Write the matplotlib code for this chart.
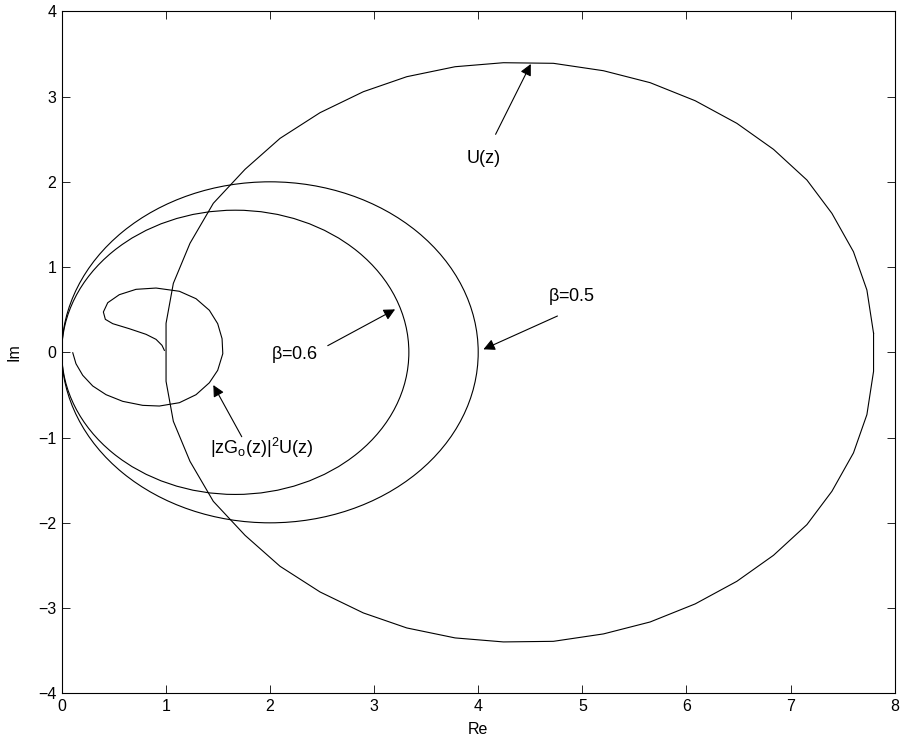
"""Nyquist-style plot of U(z), the beta circles and |zGo(z)|^2 U(z)"""

import matplotlib.pyplot as plt
import numpy as np
from matplotlib import patches

plt.rcParams["font.family"] = ["Liberation Sans", "DejaVu Sans"]
plt.rcParams["mathtext.fontset"] = "custom"
plt.rcParams["mathtext.rm"] = "Liberation Sans"
plt.rcParams["mathtext.it"] = "Liberation Sans"
plt.rcParams["mathtext.default"] = "regular"

# U(z), upper half (right -> left); lower half is the conjugate
U_RE_UPPER = [7.797, 7.733, 7.604, 7.397, 7.157, 6.836, 6.484, 6.084, 5.651, 5.203,
              4.722, 4.242, 3.778, 3.314, 2.897, 2.481, 2.097, 1.761, 1.456, 1.232,
              1.072, 1.002]
U_IM_UPPER = [0.223, 0.731, 1.180, 1.630, 2.021, 2.381, 2.686, 2.951, 3.163, 3.303,
              3.390, 3.397, 3.350, 3.233, 3.057, 2.811, 2.510, 2.147, 1.748, 1.279,
              0.809, 0.340]

# |zGo(z)|^2 U(z)
G_RE = [0.106, 0.137, 0.202, 0.298, 0.426, 0.586, 0.778, 0.938, 1.130, 1.290,
        1.418, 1.498, 1.547, 1.540, 1.498, 1.418, 1.290, 1.130, 0.906, 0.714,
        0.553, 0.442, 0.400, 0.419, 0.490, 0.649, 0.810, 0.906, 0.963, 0.986]
G_IM = [-0.005, -0.134, -0.270, -0.395, -0.497, -0.575, -0.622, -0.630, -0.591, -0.497,
        -0.357, -0.211, -0.016, 0.160, 0.336, 0.493, 0.629, 0.716, 0.754, 0.739,
        0.676, 0.582, 0.473, 0.387, 0.336, 0.277, 0.211, 0.152, 0.082, 0.023]

# beta circles: centre on the real axis and radius
BETA = [0.5, 0.6]
BETA_CENTER = [2.0, 1.667]
BETA_RADIUS = [2.0, 1.667]

# annotations: label, text pos, arrow tail, arrow head
ANNOTATIONS = [
    ("U(z)", (4.05, 2.27), (4.167, 2.557), (4.505, 3.382)),
    (r"$\beta$=0.5", (4.90, 0.65), (4.761, 0.426), (4.050, 0.035)),
    (r"$\beta$=0.6", (2.24, -0.03), (2.555, 0.078), (3.202, 0.504)),
    (r"$|zG_o(z)|^2U(z)$", (1.92, -1.12), (1.729, -0.99), (1.456, -0.384)),
]

fig = plt.figure(figsize=(9.01, 7.44), dpi=100)
ax = fig.add_axes([0.0685, 0.0681, 0.9245, 0.9167])

u_re = np.concatenate([U_RE_UPPER, U_RE_UPPER[::-1], U_RE_UPPER[:1]])
u_im = np.concatenate([U_IM_UPPER, -np.array(U_IM_UPPER[::-1]), U_IM_UPPER[:1]])
ax.plot(u_re, u_im, color="k", lw=0.8)

for c, r in zip(BETA_CENTER, BETA_RADIUS):
    ax.add_patch(patches.Circle((c, 0), r, fill=False, edgecolor="k", lw=0.8))

ax.plot(G_RE, G_IM, color="k", lw=0.8)

for label, text_pos, tail, head in ANNOTATIONS:
    ax.annotate("", xy=head, xytext=tail,
                arrowprops=dict(arrowstyle="-|>", color="k", lw=0.8,
                                mutation_scale=17, shrinkA=0, shrinkB=0))
    ax.text(text_pos[0], text_pos[1], label, ha="center", va="center", fontsize=13)

ax.set_xlim(0, 8)
ax.set_ylim(-4, 4)
ax.set_xticks(range(0, 9))
ax.set_yticks(range(-4, 5))
ax.tick_params(direction="in", top=True, right=True, length=6, width=0.6,
               labelsize=11.5, pad=4)
for spine in ax.spines.values():
    spine.set_linewidth(0.8)
ax.set_xlabel("Re", fontsize=11.5, labelpad=6)
ax.set_ylabel("Im", fontsize=11.5, labelpad=12)

plt.savefig("out.png", dpi=100)
